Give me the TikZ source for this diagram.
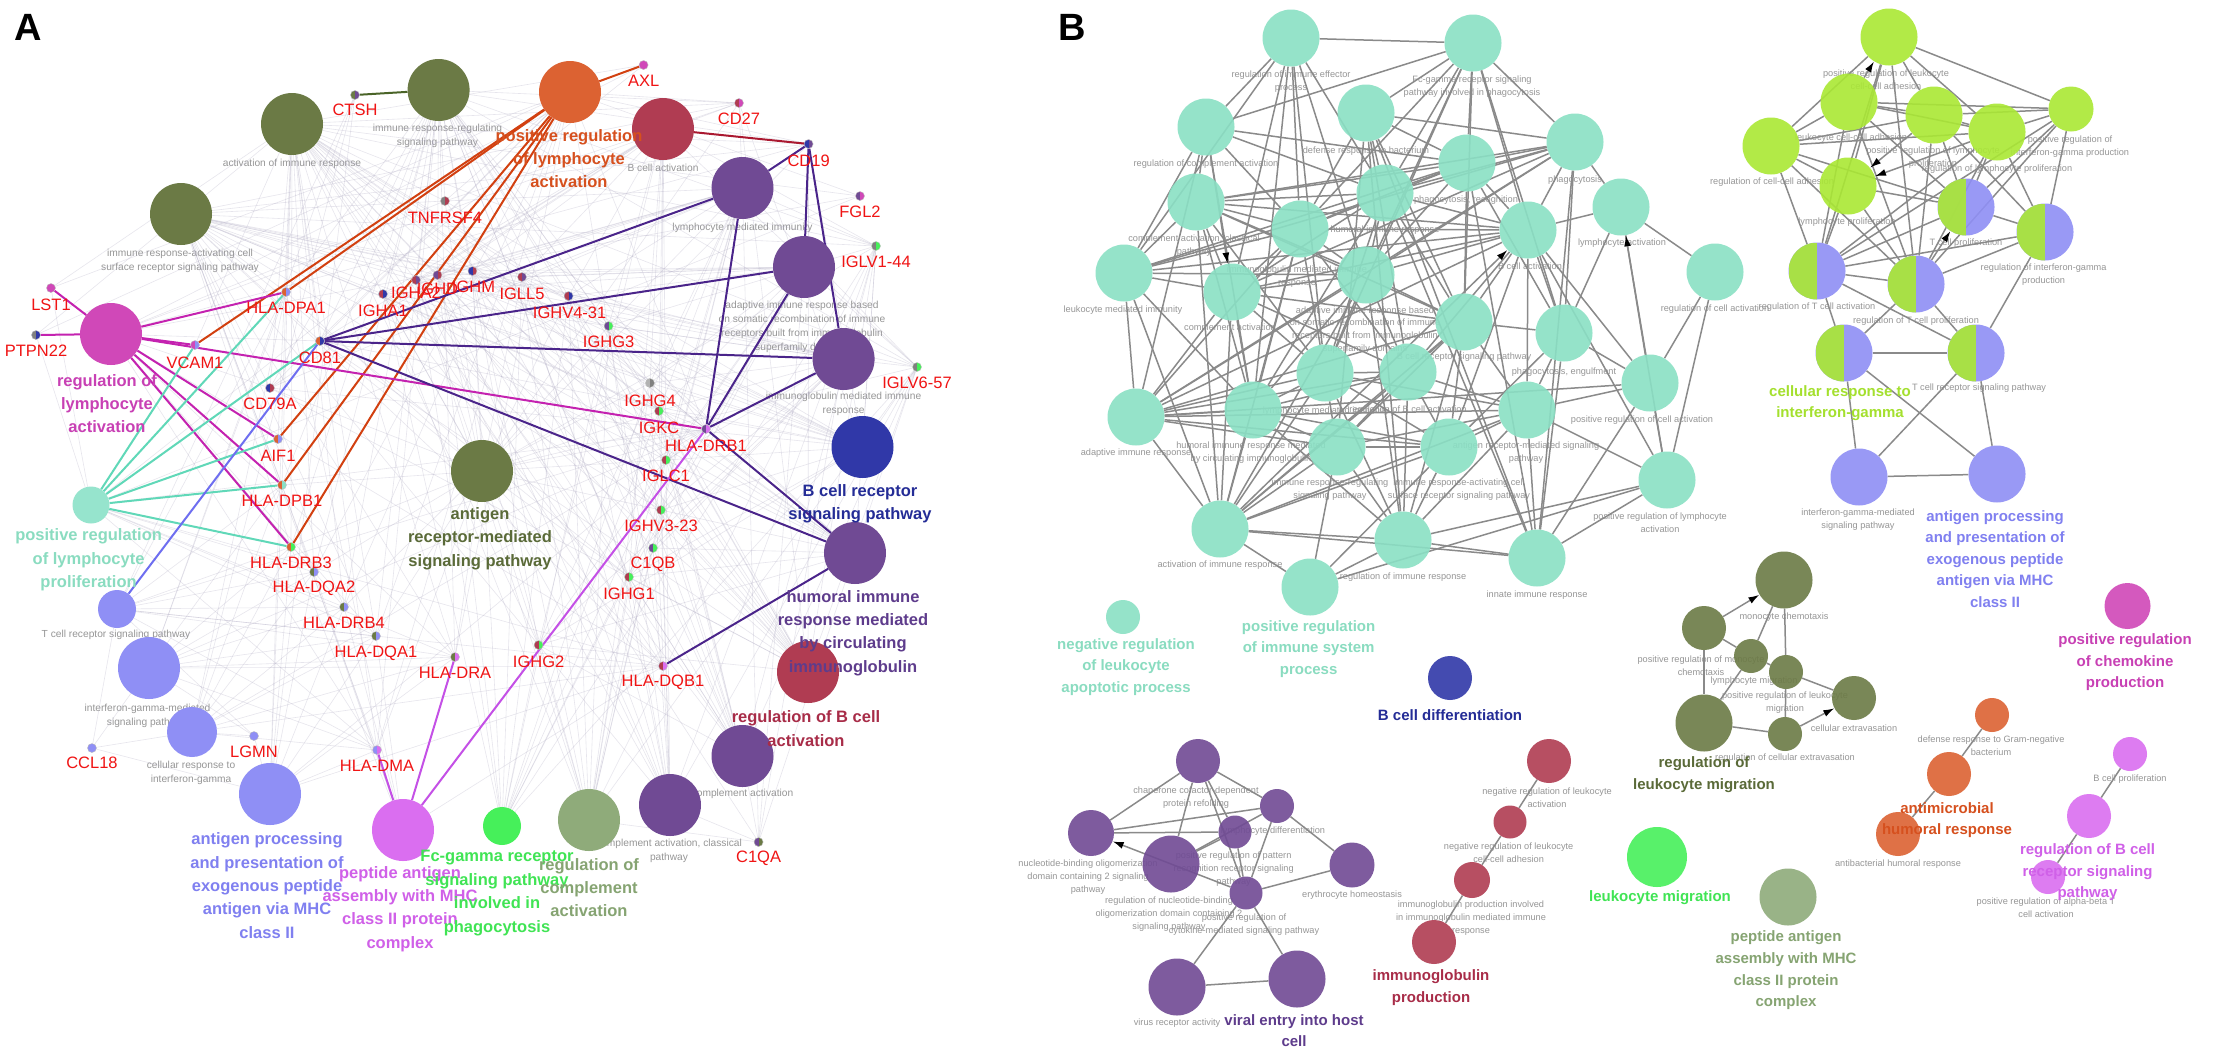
\documentclass[tikz,border=0pt]{standalone}
\usepackage{fontspec}
\setmainfont{Liberation Sans}
\usetikzlibrary{arrows.meta}
\pgfdeclarelayer{bg}\pgfdeclarelayer{edges}\pgfdeclarelayer{fg}
\pgfsetlayers{bg,edges,main,fg}
\definecolor{cTeal}{RGB}{138,224,196}
\definecolor{cTealA}{RGB}{150,228,205}
\definecolor{cLime}{RGB}{170,232,52}
\definecolor{cPeri}{RGB}{143,143,245}
\definecolor{cOlive}{RGB}{107,122,69}
\definecolor{cSage}{RGB}{143,171,122}
\definecolor{cGreen}{RGB}{70,240,90}
\definecolor{cBlue}{RGB}{48,56,168}
\definecolor{cPurple}{RGB}{112,74,148}
\definecolor{cCrimson}{RGB}{176,60,82}
\definecolor{cOrange}{RGB}{220,98,50}
\definecolor{cMagenta}{RGB}{208,72,184}
\definecolor{cViolet}{RGB}{218,110,240}
\definecolor{cGene}{RGB}{240,20,20}
\definecolor{cSmall}{RGB}{150,150,150}
\definecolor{cEdge}{RGB}{138,138,138}
\definecolor{cFaint}{RGB}{175,170,195}
\definecolor{lOrange}{RGB}{214,80,30}
\definecolor{lMagenta}{RGB}{200,64,180}
\definecolor{lTeal}{RGB}{138,220,192}
\definecolor{lOlive}{RGB}{90,106,56}
\definecolor{lBlue}{RGB}{36,44,150}
\definecolor{lPurple}{RGB}{94,60,140}
\definecolor{lCrimson}{RGB}{168,44,72}
\definecolor{lPeri}{RGB}{128,128,240}
\definecolor{lViolet}{RGB}{208,96,232}
\definecolor{lGreen}{RGB}{64,228,84}
\definecolor{lSage}{RGB}{134,164,114}
\definecolor{lLime}{RGB}{164,224,46}
\definecolor{eOrange}{RGB}{210,64,16}
\definecolor{eMagenta}{RGB}{196,34,176}
\definecolor{eTeal}{RGB}{96,216,184}
\definecolor{ePurple}{RGB}{74,36,138}
\definecolor{eViolet}{RGB}{196,80,230}
\definecolor{ePeri}{RGB}{110,110,240}
\definecolor{eOlive}{RGB}{74,100,40}
\definecolor{eCrimson}{RGB}{170,24,48}
\tikzset{
 term/.style={circle,inner sep=0pt,minimum size=62pt,draw=none},
 bterm/.style={circle,inner sep=0pt,minimum size=57pt,draw=none,fill opacity=.9},
 halfc/.style={fill=cPeri,path picture={\fill[cLime] (path picture bounding box.south west) rectangle (path picture bounding box.north);}},
 gdot/.style={circle,inner sep=0pt,minimum size=9pt,draw=gray!50,line width=.4pt},
 glab/.style={text=cGene,font=\fontsize{16.5}{19}\selectfont,inner sep=0pt},
 slabA/.style={text=cSmall,font=\fontsize{10.2}{14.2}\selectfont,align=center,inner sep=0pt},
 blabA/.style={font=\fontsize{16.5}{23.4}\selectfont\bfseries,align=center,inner sep=0pt},
 slabB/.style={text=cSmall,font=\fontsize{9.2}{12.8}\selectfont,align=center,inner sep=0pt},
 blabB/.style={font=\fontsize{15}{21.6}\selectfont\bfseries,align=center,inner sep=0pt},
 faint/.style={draw=cFaint,line width=.6pt,opacity=.3},
 aedge/.style={line width=2pt},
 bedge/.style={draw=cEdge,line width=1.5pt},
 barrow/.style={bedge,-{Latex[length=11pt,width=7pt,color=black]}},
}
\newcommand\gene[8]{%
 \node[gdot,fill=#7,path picture={\fill[#8] (path picture bounding box.south west) rectangle (path picture bounding box.north);}] (#1) at (#2,#3) {};
 \begin{pgfonlayer}{fg}\node[glab] at (#2+#5,#3+#6) {#4};\end{pgfonlayer}}
\begin{document}
\begin{tikzpicture}[x=1pt,y=-1pt]
\begin{pgfonlayer}{bg}
\fill[white] (0,0) rectangle (2227,1053);
\end{pgfonlayer}
\useasboundingbox (0,0) rectangle (2227,1053);
\node[font=\fontsize{38}{40}\selectfont\bfseries] (lettA) at (28,27) {A};
\node[font=\fontsize{38}{40}\selectfont\bfseries] (lettB) at (1072,27) {B};
% ================= PANEL A =================
\node[term,fill=cOlive] (aN1) at (438.6,90) {};
\node[term,fill=cOlive] (aN2) at (292,124) {};
\node[term,fill=cOlive] (aN3) at (181,214) {};
\node[term,fill=cOrange] (aO) at (570,92) {};
\node[term,fill=cCrimson] (aBact) at (663,129) {};
\node[term,fill=cPurple] (aLMI) at (742.5,188) {};
\node[term,fill=cPurple] (aAD) at (804,267) {};
\node[term,fill=cPurple] (aIMI) at (843.6,359) {};
\node[term,fill=cBlue] (aBCR) at (862.5,447) {};
\node[term,fill=cPurple] (aHUM) at (855,553) {};
\node[term,fill=cCrimson] (aRBA) at (808,672) {};
\node[term,fill=cPurple] (aCA) at (742.5,756) {};
\node[term,fill=cPurple] (aCAC) at (670,805) {};
\node[term,fill=cSage] (aRCA) at (589,820) {};
\node[term,fill=cGreen,minimum size=38pt] (aFC) at (502,826) {};
\node[term,fill=cViolet] (aPEP) at (403,830) {};
\node[term,fill=cPeri] (aAPP) at (270,794) {};
\node[term,fill=cPeri,minimum size=50pt] (aCRI) at (192,732) {};
\node[term,fill=cPeri] (aIFN) at (149,668) {};
\node[term,fill=cPeri,minimum size=38pt] (aTCR) at (117,609) {};
\node[term,fill=cTealA,minimum size=37pt] (aT) at (91,505) {};
\node[term,fill=cMagenta] (aM) at (111,334) {};
\node[term,fill=cOlive] (aARM) at (482,471) {};
% genes
\gene{CTSH}{355}{95}{CTSH}{0}{15}{cPurple}{cOlive}
\gene{AXL}{643.6}{65}{AXL}{0}{16}{cMagenta}{cMagenta}
\gene{CD27}{739}{103}{CD27}{0}{16}{cMagenta}{cCrimson}
\gene{TNFRSF4}{445}{201}{TNFRSF4}{0}{17}{cCrimson}{gray}
\gene{CD19}{808.6}{144}{CD19}{0}{17}{cPurple}{cBlue}
\gene{FGL2}{860}{196}{FGL2}{0}{16}{cMagenta}{cPurple}
\gene{IGLVa}{876}{246}{IGLV1-44}{0}{16}{cGreen}{gray}
\gene{LST1}{51}{288}{LST1}{0}{17}{cMagenta}{cMagenta}
\gene{PTPN22}{36}{335}{PTPN22}{0}{16}{cBlue}{gray}
\gene{DPA1}{286}{292}{HLA-DPA1}{0}{16}{cPeri}{cOrange}
\gene{IGHA1}{383}{294}{IGHA1}{0}{17}{cBlue}{cCrimson}
\gene{IGHA2}{416}{280}{IGHA2}{0}{13}{cPurple}{cCrimson}
\gene{IGHD}{437.5}{275}{IGHD}{0}{14}{cCrimson}{cPurple}
\gene{IGHM}{472.5}{271}{IGHM}{1}{16}{cCrimson}{cBlue}
\gene{IGLL5}{522}{277}{IGLL5}{0}{17}{cPurple}{cCrimson}
\gene{IGHVa}{568.6}{296}{IGHV4-31}{1}{17}{cBlue}{cCrimson}
\gene{IGHG3}{608.6}{326}{IGHG3}{0}{16}{cGreen}{cPurple}
\gene{VCAM1}{195}{345}{VCAM1}{0}{18}{cPeri}{cMagenta}
\gene{CD81}{320}{341}{CD81}{0}{17}{cBlue}{cOrange}
\gene{CD79A}{270}{388}{CD79A}{0}{16}{cCrimson}{cBlue}
\gene{AIF1}{278}{439}{AIF1}{0}{17}{cPeri}{cOrange}
\gene{DPB1}{282}{485}{HLA-DPB1}{0}{16}{cTeal}{cOrange}
\gene{DRB3}{291}{547}{HLA-DRB3}{0}{16}{cGreen}{cOrange}
\gene{DQA2}{314}{572}{HLA-DQA2}{0}{16}{cPeri}{cOlive}
\gene{DRB4}{344}{607}{HLA-DRB4}{0}{16}{cPeri}{cOlive}
\gene{DQA1}{376}{636}{HLA-DQA1}{0}{17}{cPeri}{cOlive}
\gene{DRA}{455}{657}{HLA-DRA}{0}{16}{cViolet}{cOlive}
\gene{IGHG2}{538.6}{645}{IGHG2}{0}{17}{cGreen}{cCrimson}
\gene{IGHG4}{650}{383}{IGHG4}{0}{18}{gray}{gray!60}
\gene{IGKC}{659}{411}{IGKC}{0}{17}{cGreen}{cCrimson}
\gene{DRB1}{706}{429}{HLA-DRB1}{0}{17}{cViolet}{cPurple}
\gene{IGLC1}{666}{460}{IGLC1}{0}{16}{cGreen}{cCrimson}
\gene{IGHVb}{661}{510}{IGHV3-23}{0}{16}{cGreen}{cCrimson}
\gene{C1QB}{653}{548}{C1QB}{0}{16}{cGreen}{cPurple}
\gene{IGHG1}{629}{577}{IGHG1}{0}{17}{cGreen}{cCrimson}
\gene{DQB1}{663}{666}{HLA-DQB1}{0}{16}{cViolet}{cCrimson}
\gene{IGLVb}{917}{367}{IGLV6-57}{0}{16}{cGreen}{gray}
\gene{C1QA}{758.6}{842}{C1QA}{0}{16}{cOlive}{cPurple}
\gene{CCL18}{92}{748}{CCL18}{0}{15}{cPeri}{cPeri}
\gene{LGMN}{254}{736}{LGMN}{0}{16}{cPeri}{cPeri}
\gene{DMA}{377}{750}{HLA-DMA}{0}{16}{cViolet}{cPeri}
% ================= PANEL B nodes =================
\foreach \n/\x/\y in {1/1291/38,2/1473/43,3/1206/127,4/1366/113,5/1575/142,6/1467/163,7/1385/193,8/1196/202,9/1124/273,10/1300/229,11/1366/275,12/1528/230,13/1621/207,14/1232/292,15/1464/322,16/1564/333,17/1715/272,18/1325/373,19/1408/372,20/1136/417,21/1253/410,22/1337/447,23/1449/447,24/1527/410,25/1650/383,26/1667/480,27/1220/529,28/1403/540,29/1537/558,30/1310/587}
  {\node[bterm,fill=cTeal] (tt\n) at (\x,\y) {};}
\node[bterm,fill=cTeal,minimum size=34pt] (tt31) at (1123,617) {};
\foreach \n/\x/\y in {l1/1889/37,l2/1849/102,l3/1934/115,l4/1997/132,l6/1771/146,l7/1848/186}
  {\node[bterm,fill=cLime] (\n) at (\x,\y) {};}
\node[bterm,fill=cLime,minimum size=45pt] (l5) at (2071,109) {};
\foreach \n/\x/\y in {h1/1966/207,h2/2045/232,h3/1817/271,h4/1916/284,h5/1844/353,h6/1976/353}
  {\node[bterm,halfc] (\n) at (\x,\y) {};}
\node[bterm,fill=cPeri] (p1) at (1859,477) {};
\node[bterm,fill=cPeri] (p2) at (1997,474) {};
\node[bterm,fill=cOlive] (o1) at (1784,580) {};
\node[bterm,fill=cOlive,minimum size=44pt] (o2) at (1704,628) {};
\node[bterm,fill=cOlive,minimum size=34pt] (o3) at (1751,656) {};
\node[bterm,fill=cOlive,minimum size=34pt] (o4) at (1786,672) {};
\node[bterm,fill=cOlive,minimum size=44pt] (o5) at (1854,698) {};
\node[bterm,fill=cOlive] (o6) at (1704,723) {};
\node[bterm,fill=cOlive,minimum size=34pt] (o7) at (1785,734) {};
\node[bterm,fill=cCrimson,minimum size=44pt] (c1) at (1549,761) {};
\node[bterm,fill=cCrimson,minimum size=33pt] (c2) at (1510,822) {};
\node[bterm,fill=cCrimson,minimum size=36pt] (c3) at (1472,880) {};
\node[bterm,fill=cCrimson,minimum size=44pt] (c4) at (1434,942) {};
\node[bterm,fill=cPurple,minimum size=44pt] (v1) at (1198,761) {};
\node[bterm,fill=cPurple,minimum size=46pt] (v2) at (1091,833) {};
\node[bterm,fill=cPurple] (v3) at (1171,864) {};
\node[bterm,fill=cPurple,minimum size=33pt] (v4) at (1235,832) {};
\node[bterm,fill=cPurple,minimum size=33pt] (v5) at (1246,893) {};
\node[bterm,fill=cPurple,minimum size=34pt] (v6) at (1277,806) {};
\node[bterm,fill=cPurple,minimum size=45pt] (v7) at (1352,865) {};
\node[bterm,fill=cPurple] (v8) at (1177,987) {};
\node[bterm,fill=cPurple] (v9) at (1297,979) {};
\node[bterm,fill=cOrange,minimum size=34pt] (r1) at (1992,715) {};
\node[bterm,fill=cOrange,minimum size=44pt] (r2) at (1949,774) {};
\node[bterm,fill=cOrange,minimum size=44pt] (r3) at (1898,834) {};
\node[bterm,fill=cViolet,minimum size=34pt] (w1) at (2130,754) {};
\node[bterm,fill=cViolet,minimum size=44pt] (w2) at (2089,816) {};
\node[bterm,fill=cViolet,minimum size=34pt] (w3) at (2048,877) {};
\node[bterm,fill=cBlue,minimum size=44pt] (bDiff) at (1450,678) {};
\node[bterm,fill=cMagenta,minimum size=46pt] (bChem) at (2127.5,606) {};
\node[bterm,fill=cGreen,minimum size=60pt] (bLeuk) at (1657,857) {};
\node[bterm,fill=cSage] (bPep) at (1788,897) {};
% ================= EDGES =================
\begin{pgfonlayer}{edges}
\foreach \t in {aN1,aN2,aN3,aLMI,aAD,aIMI,aBCR,aHUM,aCA,aCAC,aFC,aARM,aBact,aRCA,aRBA}
 {\foreach \g in {IGHA1,IGHA2,IGHD,IGHM,IGLL5,IGHVa,IGHG3,IGHG4,IGKC,IGLC1,IGHVb,IGHG1,IGHG2,IGLVa,IGLVb}{\draw[faint] (\t)--(\g);}}
\foreach \t in {aAPP,aPEP,aCRI,aIFN,aTCR,aN1,aN2,aN3,aARM,aM,aT,aO}
 {\foreach \g in {DPA1,DPB1,DRB3,DQA2,DRB4,DQA1,DRA,DRB1,DQB1,DMA}{\draw[faint] (\t)--(\g);}}
\foreach \t in {aN1,aN2,aN3,aBact,aRBA,aARM,aBCR,aLMI,aO,aM}
 {\foreach \g in {CD19,CD79A,CD81,TNFRSF4,CD27}{\draw[faint] (\t)--(\g);}}
\foreach \t in {aCA,aCAC,aRCA,aHUM,aIMI,aLMI,aAD,aN2}
 {\foreach \g in {C1QA,C1QB}{\draw[faint] (\t)--(\g);}}
\foreach \t in {aAPP,aCRI,aIFN,aTCR}
 {\foreach \g in {LGMN,CCL18,CTSH}{\draw[faint] (\t)--(\g);}}
\foreach \t in {aN2,aM,aO,aT}
 {\foreach \g in {AXL,FGL2,LST1,PTPN22,VCAM1,AIF1}{\draw[faint] (\t)--(\g);}}
% coloured edges panel A
\foreach \g in {AXL,DPA1,VCAM1,AIF1,DPB1,DRB3}{\draw[aedge,eOrange] (aO)--(\g);}
\foreach \g in {LST1,PTPN22,DPA1,VCAM1,DRB1,AIF1,DPB1,DRB3}{\draw[aedge,eMagenta] (aM)--(\g);}
\foreach \g in {DPA1,VCAM1,CD81,AIF1,DPB1,DRB3}{\draw[aedge,eTeal] (aT)--(\g);}
\foreach \a/\b in {CD81/aLMI,CD81/aAD,CD81/aIMI,CD81/aHUM,CD19/aLMI,CD19/aAD,CD19/aIMI,DRB1/aLMI,DRB1/aAD,DRB1/aIMI,DRB1/aHUM,DQB1/aHUM}{\draw[aedge,ePurple] (\a)--(\b);}
\foreach \g in {DMA,DRA,DRB1}{\draw[aedge,eViolet] (aPEP)--(\g);}
\draw[aedge,ePeri] (aTCR)--(CD81);
\draw[aedge,eOlive] (CTSH)--(aN1);
\draw[aedge,eCrimson] (CD19)--(aBact);
% panel B edges
\foreach \a/\b in {1/2,1/3,1/7,1/9,1/10,1/11,1/14,1/18,1/21,
 2/3,2/4,2/5,2/6,2/7,2/10,2/11,2/12,2/15,2/16,2/18,
 3/7,3/8,3/9,3/10,3/20,3/21,3/6,
 4/5,4/6,4/7,4/10,4/15,4/19,4/22,4/28,4/29,
 5/6,5/7,5/8,5/9,5/11,5/12,5/14,5/16,5/20,5/29,5/13,
 6/7,6/8,6/9,6/10,6/11,6/12,6/15,6/16,6/29,
 7/8,7/10,7/11,7/12,7/14,7/15,7/18,7/21,7/29,
 8/9,8/10,8/11,8/12,8/14,8/15,8/18,8/21,8/27,
 9/10,9/11,9/12,9/14,9/20,9/21,9/27,
 10/11,10/12,10/14,10/18,10/19,10/20,10/21,10/27,
 11/12,11/14,11/15,11/18,11/19,11/20,11/21,11/27,11/28,
 12/13,12/15,12/16,12/19,12/20,12/23,12/24,12/25,12/26,12/14,
 13/16,13/17,13/25,
 14/15,14/18,14/19,14/20,14/21,14/27,
 15/16,15/19,15/20,15/22,15/23,15/24,15/27,15/28,
 16/23,16/24,16/25,16/29,
 17/25,17/26,
 18/19,18/20,18/21,18/22,18/23,18/24,18/27,18/28,
 19/20,19/21,19/22,19/23,19/24,19/27,19/28,
 20/21,20/22,20/23,20/24,20/25,20/27,
 21/22,21/23,21/27,21/28,
 22/23,22/24,22/27,22/28,22/30,
 23/24,23/27,23/28,23/30,
 24/25,24/26,24/27,24/28,24/29,
 25/26,25/29,26/28,26/29,26/30,
 27/28,27/29,27/30,28/29,28/30}{\draw[bedge] (tt\a)--(tt\b);}
\draw[barrow] (tt3)--(tt14);
\draw[barrow] (tt27)--(tt12);
\draw[barrow] (tt26)--(tt13);
\foreach \a/\b in {l1/l3,l1/l4,l1/l5,l1/l6,l1/l7,l1/h3,l1/h4,
 l2/l3,l2/l4,l2/l5,l2/l6,l2/h1,l2/h3,l2/h4,
 l3/l4,l3/l5,l3/l6,l3/h1,l3/h2,l3/h4,
 l4/l5,l4/l6,l4/h1,l4/h2,l4/h3,l4/h4,
 l5/h1,l5/h2,l5/h3,l5/h4,
 l6/l7,l6/h1,l6/h3,l6/h4,l7/h1,l7/h3,l7/h4,
 h1/h2,h1/h3,h2/h3,h2/h4,h2/h6,h3/h4,h3/h5,h3/h6,h4/h5,h4/h6,
 h5/h6,h5/p1,h5/p2,h6/p1,h6/p2,p1/p2}{\draw[bedge] (\a)--(\b);}
\draw[barrow] (l2)--(l1);
\draw[barrow] (l3)--(l7);
\draw[barrow] (l4)--(l7);
\draw[barrow] (h4)--(h1);
\foreach \a/\b in {o2/o3,o3/o1,o1/o4,o3/o4,o2/o6,o3/o6,o6/o7,o7/o4,o4/o5,
 c1/c2,c2/c3,c3/c4,r1/r2,r2/r3,w1/w2,w2/w3,
 v1/v2,v1/v3,v1/v4,v1/v5,v1/v6,v2/v6,v2/v4,v3/v4,v3/v6,v6/v5,v6/v7,v5/v7,v5/v8,v5/v9,v8/v9,v4/v5}{\draw[bedge] (\a)--(\b);}
\draw[barrow] (o2)--(o1);
\draw[barrow] (o7)--(o5);
\draw[barrow] (v5)--(v2);
\end{pgfonlayer}
% ================= SMALL LABELS =================
\begin{pgfonlayer}{bg}
\node[slabA] at (437.5,136) {immune response-regulating\\signaling pathway};
\node[slabA] at (292,164) {activation of immune response};
\node[slabA] at (180,260.5) {immune response-activating cell\\surface receptor signaling pathway};
\node[slabA] at (663,168) {B cell activation};
\node[slabA] at (742.5,228) {lymphocyte mediated immunity};
\node[slabA] at (802,327) {adaptive immune response based\\on somatic recombination of immune\\receptors built from immunoglobulin\\superfamily domains};
\node[slabA] at (843.6,404) {immunoglobulin mediated immune\\response};
\node[slabA] at (116,635) {T cell receptor signaling pathway};
\node[slabA] at (147.5,716) {interferon-gamma-mediated\\signaling pathway};
\node[slabA] at (191,772.5) {cellular response to\\interferon-gamma};
\node[slabA] at (742.5,794) {complement activation};
\node[slabA] at (669,851) {complement activation, classical\\pathway};
% panel B
\node[slabB] at (1291,82) {regulation of immune effector\\process};
\node[slabB] at (1472,86.5) {Fc-gamma receptor signaling\\pathway involved in phagocytosis};
\node[slabB] at (1206,164) {regulation of complement activation};
\node[slabB] at (1366,151) {defense response to bacterium};
\node[slabB] at (1575,180) {phagocytosis};
\node[slabB] at (1466,200) {phagocytosis, recognition};
\node[slabB] at (1385,230) {humoral immune response};
\node[slabB] at (1194,245.5) {complement activation, classical\\pathway};
\node[slabB] at (1123,310) {leukocyte mediated immunity};
\node[slabB] at (1297,276.5) {immunoglobulin mediated immune\\response};
\node[slabB] at (1365,330) {adaptive immune response based\\on somatic recombination of immune\\receptors built from immunoglobulin\\superfamily domains};
\node[slabB] at (1530,266) {B cell activation};
\node[slabB] at (1622,243) {lymphocyte activation};
\node[slabB] at (1230,328) {complement activation};
\node[slabB] at (1464,357) {B cell receptor signaling pathway};
\node[slabB] at (1564,372) {phagocytosis, engulfment};
\node[slabB] at (1715,309) {regulation of cell activation};
\node[slabB] at (1326,411) {lymphocyte mediated immunity};
\node[slabB] at (1408,410) {regulation of B cell activation};
\node[slabB] at (1136,453) {adaptive immune response};
\node[slabB] at (1251,453) {humoral immune response mediated\\by circulating immunoglobulin};
\node[slabB] at (1330,489.5) {immune response-regulating\\signaling pathway};
\node[slabB] at (1459,489.5) {immune response-activating cell\\surface receptor signaling pathway};
\node[slabB] at (1526,453) {antigen receptor-mediated signaling\\pathway};
\node[slabB] at (1642,420) {positive regulation of cell activation};
\node[slabB] at (1660,522.5) {positive regulation of lymphocyte\\activation};
\node[slabB] at (1220,565) {activation of immune response};
\node[slabB] at (1403,577) {regulation of immune response};
\node[slabB] at (1537,595) {innate immune response};
\node[slabB] at (1886,79.5) {positive regulation of leukocyte\\cell-cell adhesion};
\node[slabB] at (1851,138) {leukocyte cell-cell adhesion};
\node[slabB] at (1933,158) {positive regulation of lymphocyte\\proliferation};
\node[slabB] at (1997,169) {regulation of lymphocyte proliferation};
\node[slabB] at (2070,146.5) {positive regulation of\\interferon-gamma production};
\node[slabB] at (1772,182) {regulation of cell-cell adhesion};
\node[slabB] at (1847,222) {lymphocyte proliferation};
\node[slabB] at (1966,243) {T cell proliferation};
\node[slabB] at (2043.6,275) {regulation of interferon-gamma\\production};
\node[slabB] at (1817,307) {regulation of T cell activation};
\node[slabB] at (1916,321) {regulation of T cell proliferation};
\node[slabB] at (1979,388) {T cell receptor signaling pathway};
\node[slabB] at (1858,520) {interferon-gamma-mediated\\signaling pathway};
\node[slabB] at (1784,617) {monocyte chemotaxis};
\node[slabB] at (1701,665.5) {positive regulation of monocyte\\chemotaxis};
\node[slabB] at (1754,681) {lymphocyte migration};
\node[slabB] at (1785,702.5) {positive regulation of leukocyte\\migration};
\node[slabB] at (1854,728) {cellular extravasation};
\node[slabB] at (1785,758) {regulation of cellular extravasation};
\node[slabB] at (1547,797.5) {negative regulation of leukocyte\\activation};
\node[slabB] at (1508.6,852.5) {negative regulation of leukocyte\\cell-cell adhesion};
\node[slabB] at (1471,918) {immunoglobulin production involved\\in immunoglobulin mediated immune\\response};
\node[slabB] at (1196,797.5) {chaperone cofactor-dependent\\protein refolding};
\node[slabB] at (1088,877) {nucleotide-binding oligomerization\\domain containing 2 signaling\\pathway};
\node[slabB] at (1233.6,869) {positive regulation of pattern\\recognition receptor signaling\\pathway};
\node[slabB] at (1273,831) {lymphocyte differentiation};
\node[slabB] at (1169,914) {regulation of nucleotide-binding\\oligomerization domain containing 2\\signaling pathway};
\node[slabB] at (1244,924.5) {positive regulation of\\cytokine-mediated signaling pathway};
\node[slabB] at (1352,895) {erythrocyte homeostasis};
\node[slabB] at (1177,1023) {virus receptor activity};
\node[slabB] at (1991,745.5) {defense response to Gram-negative\\bacterium};
\node[slabB] at (1898,864) {antibacterial humoral response};
\node[slabB] at (2130,779) {B cell proliferation};
\node[slabB] at (2046,907.5) {positive regulation of alpha-beta T\\cell activation};
\end{pgfonlayer}
% ================= BOLD LABELS =================
\begin{pgfonlayer}{fg}
\node[blabA,text=lMagenta] at (107,403.5) {regulation of\\lymphocyte\\activation};
\node[blabA,text=lOrange] at (569,158.5) {positive regulation\\of lymphocyte\\activation};
\node[blabA,text=lTeal] at (88.6,560) {positive regulation\\of lymphocyte\\proliferation};
\node[blabA,text=lOlive] at (480,538.5) {antigen\\receptor-mediated\\signaling pathway};
\node[blabA,text=lBlue] at (860,503.5) {B cell receptor\\signaling pathway};
\node[blabA,text=lPurple] at (853,633) {humoral immune\\response mediated\\by circulating\\immunoglobulin};
\node[blabA,text=lCrimson] at (806,728.5) {regulation of B cell\\activation};
\node[blabA,text=lPeri] at (267,885.5) {antigen processing\\and presentation of\\exogenous peptide\\antigen via MHC\\class II};
\node[blabA,text=lViolet] at (400,909) {peptide antigen\\assembly with MHC\\class II protein\\complex};
\node[blabA,text=lGreen] at (497,893) {Fc-gamma receptor\\signaling pathway\\involved in\\phagocytosis};
\node[blabA,text=lSage] at (589,887.5) {regulation of\\complement\\activation};
\node[blabB,text=lTeal] at (1308.6,649) {positive regulation\\of immune system\\process};
\node[blabB,text=lTeal] at (1126,667) {negative regulation\\of leukocyte\\apoptotic process};
\node[blabB,text=lBlue] at (1450,715) {B cell differentiation};
\node[blabB,text=lLime] at (1840,403) {cellular response to\\interferon-gamma};
\node[blabB,text=lPeri] at (1995,559) {antigen processing\\and presentation of\\exogenous peptide\\antigen via MHC\\class II};
\node[blabB,text=lMagenta] at (2125,662.5) {positive regulation\\of chemokine\\production};
\node[blabB,text=lOlive] at (1704,774.5) {regulation of\\leukocyte migration};
\node[blabB,text=lGreen] at (1660,898) {leukocyte migration};
\node[blabB,text=lOrange] at (1947,820) {antimicrobial\\humoral response};
\node[blabB,text=lViolet] at (2087.5,872.5) {regulation of B cell\\receptor signaling\\pathway};
\node[blabB,text=lCrimson] at (1431,987.5) {immunoglobulin\\production};
\node[blabB,text=lPurple] at (1294,1030.5) {viral entry into host\\cell};
\node[blabB,text=lSage] at (1786,970.5) {peptide antigen\\assembly with MHC\\class II protein\\complex};
\end{pgfonlayer}
\end{tikzpicture}
\end{document}
